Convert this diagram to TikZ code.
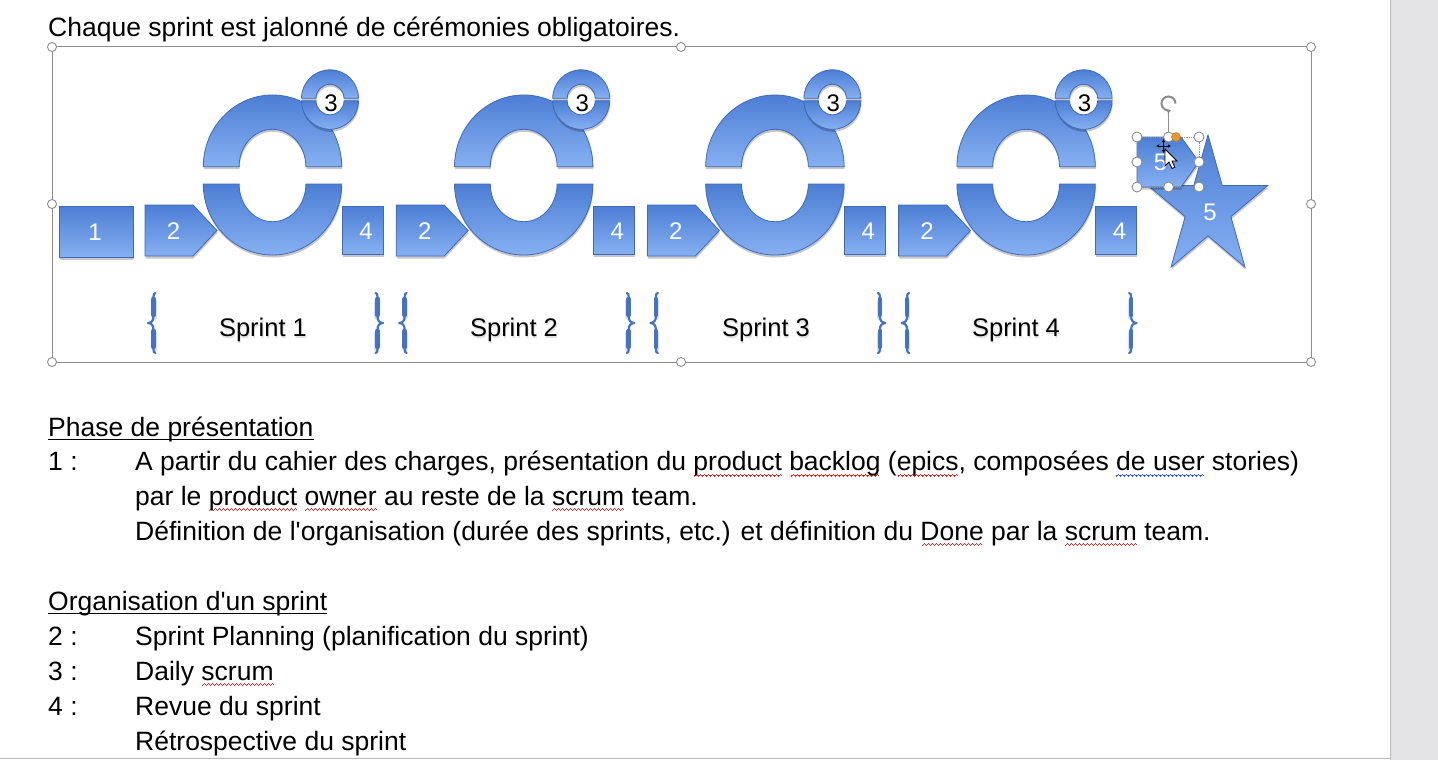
\documentclass[tikz,border=0pt]{standalone}
\usepackage{fontspec}
\setmainfont{Liberation Sans}[Ligatures=TeXOff]
\usetikzlibrary{shadows,arrows.meta}
\definecolor{shapeTop}{RGB}{76,126,212}
\definecolor{shapeBot}{RGB}{134,176,242}
\definecolor{shapeBorder}{RGB}{62,106,186}
\definecolor{braceBlue}{RGB}{68,114,196}
\definecolor{handleGrey}{RGB}{140,140,140}
\definecolor{lineGrey}{RGB}{185,185,185}
\definecolor{spellRed}{RGB}{225,30,30}
\definecolor{spellBlue}{RGB}{40,80,230}
\definecolor{scrollGrey}{RGB}{228,228,231}
\definecolor{handleOrange}{RGB}{232,152,48}
\newcommand\wavunit{\rule[-6pt]{1pt}{1.1pt}\rule[-5.1pt]{1pt}{1.1pt}\rule[-4.2pt]{1pt}{1.1pt}\rule[-5.1pt]{1pt}{1.1pt}}
\newcommand\wv[2]{\setbox0\hbox{#2}\rlap{\textcolor{#1}{\hbox to \wd0{\cleaders\hbox{\wavunit}\hfill}}}\box0\relax}
\newcommand\rwv[1]{\wv{spellRed}{#1}}
\newcommand\bwv[1]{\wv{spellBlue}{#1}}
\newcommand\bodyfont{\fontsize{26.5}{32}\selectfont}
\begin{document}
\begin{tikzpicture}[x=1pt,y=-1pt,
  blueshape/.style={draw=shapeBorder, line width=0.8pt, top color=shapeTop, bottom color=shapeBot,
    drop shadow={shadow xshift=0.5pt, shadow yshift=-2.5pt, opacity=0.22, fill=black}},
  numlabel/.style={text=white, font=\fontsize{24}{28}\selectfont, inner sep=0},
  blacklabel/.style={text=black, font=\fontsize{24}{28}\selectfont, inner sep=0},
  bodytext/.style={anchor=base west, inner sep=0, font=\bodyfont},
  sprintlabel/.style={anchor=base, inner sep=0, font=\fontsize{25.5}{30}\selectfont},
  sprintshadow/.style={anchor=base, inner sep=0, font=\fontsize{25.5}{30}\selectfont, text=black, opacity=0.12},
  handle/.style={circle, draw=handleGrey, fill=white, line width=0.9pt, minimum size=9pt, inner sep=0},
  bracethin/.style={line width=2.2pt, line cap=round, line join=round},
  bracethick/.style={line width=4.6pt, line cap=round},
  lbrace/.pic={
    \begin{scope}[shift={(1,2.5)}, black, opacity=0.12]
      \draw[bracethick] (0,-24) -- (0,-8) (0,8) -- (0,24);
    \end{scope}
    \draw[bracethin, braceBlue] (2,-30) .. controls (0.4,-30) and (0,-28.5) .. (0,-26) -- (0,-7) .. controls (0,-2) and (-2,-0.4) .. (-5.5,0) .. controls (-2,0.4) and (0,2) .. (0,7) -- (0,26) .. controls (0,28.5) and (0.4,30) .. (2,30);
    \draw[bracethick, braceBlue] (0,-24) -- (0,-8) (0,8) -- (0,24);
  }
]
\useasboundingbox (0,0) rectangle (1438,760);
\fill[white] (0,0) rectangle (1438,760);
\fill[scrollGrey] (1390,0) rectangle (1438,760);
\draw[lineGrey, line width=1pt] (1390.5,0) -- (1390.5,760);
\draw[lineGrey, line width=1pt] (0,758.5) -- (1390,758.5);

% title
\node[bodytext] (title) at (48,37) {Chaque sprint est jalonné de cérémonies obligatoires.};

% frame of the diagram
\draw[handleGrey, line width=1pt] (52,47) rectangle (1311,362);

% step 1
\path[blueshape] (59,206) rectangle (133,257);
\node[numlabel] (n1) at (95,232) {1};

% sprints
\foreach \i in {0,1,2,3} {
  \begin{scope}[shift={(251.2*\i,0)}]
    \path[blueshape] (145,205) -- (193,205) -- (217,230.5) -- (193,256) -- (145,256) -- cycle;
    \node[numlabel] (two\i) at (173.5,231.5) {2};
    % big ring, top half
    \path[blueshape] (203.3,166.7) arc[start angle=180, end angle=360, x radius=69.2, y radius=71.7]
       -- (305.9,166.7) arc[start angle=360, end angle=180, x radius=33.4, y radius=37.4] -- cycle;
    % big ring, bottom half
    \path[blueshape] (341.7,184) arc[start angle=0, end angle=180, x radius=69.2, y radius=71]
       -- (239.1,184) arc[start angle=180, end angle=0, x radius=33.4, y radius=37.7] -- cycle;
    % small ring
    \path[blueshape] (301.5,98.3) arc[start angle=180, end angle=360, x radius=28.5, y radius=28.5]
       -- (344,98.3) arc[start angle=360, end angle=180, x radius=14, y radius=14] -- cycle;
    \path[blueshape] (358.5,100.8) arc[start angle=0, end angle=180, x radius=28.5, y radius=28.5]
       -- (316,100.8) arc[start angle=180, end angle=0, x radius=14, y radius=14] -- cycle;
    \node[blacklabel] (three\i) at (331,103) {3};
    % review box
    \path[blueshape] (342,206) rectangle (383,254);
    \node[numlabel] (four\i) at (366,231.5) {4};
    % braces
    \pic at (153.5,323) {lbrace};
    \pic[xscale=-1] at (377.5,323) {lbrace};
  \end{scope}
}

% sprint labels
\foreach \i/\x in {1/263,2/514,3/766,4/1016} {
  \node[sprintshadow] at (\x+0.8,338.5) {Sprint \i};
  \node[sprintlabel] (sprint\i) at (\x,336) {Sprint \i};
}

% star 5
\path[blueshape] (1208,135) -- (1222.2,185.4) -- (1267.9,185.4) -- (1230.9,216.6) -- (1245,267.1)
   -- (1208,235.9) -- (1171,267.1) -- (1185.1,216.6) -- (1148.1,185.4) -- (1193.8,185.4) -- cycle;
\node[numlabel] (five) at (1210,212) {5};

% selected small shape 5
\path[blueshape] (1137,137) -- (1181,137) -- (1199,162) -- (1181,187) -- (1137,187) -- cycle;
\node[numlabel] (fivesel) at (1160.5,162) {5};
\draw[handleGrey, line width=0.8pt, densely dotted] (1137,137) rectangle (1199,187);
\draw[handleGrey, line width=1.2pt] (1168.5,112) -- (1168.5,137);
\draw[handleGrey, line width=2pt, -{Stealth[length=4.5pt,width=6pt]}] (1175.5,103.5) arc[start angle=0, end angle=-290, radius=7];

% handles of the selected shape
\foreach \p/\q in {1137/137,1168.5/137,1199/137,1137/162,1199/162,1137/187,1168.5/187,1199/187} {
  \node[handle, minimum size=10pt] at (\p,\q) {};
}
\node[circle, fill=handleOrange, draw=handleOrange!80!black, line width=0.5pt, minimum size=9pt, inner sep=0] (adj) at (1176,137) {};

% handles of the frame
\foreach \p/\q in {52/47,681/47,1311/47,52/204,1311/204,52/362,681/362,1311/362} {
  \node[handle] at (\p,\q) {};
}

% mouse cursor
\draw[black, line width=0.9pt, {Latex[length=3pt,width=3.5pt]}-{Latex[length=3pt,width=3.5pt]}] (1156,146) -- (1171,146);
\draw[black, line width=0.9pt, {Latex[length=3pt,width=3.5pt]}-{Latex[length=3pt,width=3.5pt]}] (1163.5,139) -- (1163.5,153);
\draw[black, fill=white, line width=0.8pt, shift={(1165,149)}] (0,0) -- (0,17) -- (4,13) -- (7,19.5) -- (9.8,18.3) -- (7,12) -- (12,12) -- cycle;

% body text
\node[bodytext] (h1) at (48,436) {Phase de présentation};
\draw[line width=1.7pt] ([yshift=-3.6pt]h1.base west) -- ([yshift=-3.6pt]h1.base east);
\node[bodytext] (k1) at (48,470.5) {1 :};
\node[bodytext] (t1a) at (135,470.5) {A partir du cahier des charges, présentation du \rwv{product} \rwv{backlog} (\rwv{epics}, composées \bwv{de user} stories)};
\node[bodytext] (t1b) at (135,505) {par le \rwv{product} \rwv{owner} au reste de la \rwv{scrum} team.};
\node[bodytext] (t1c) at (135,540) {Définition de l'organisation (durée des sprints, etc.) et définition du \rwv{Done} par la \rwv{scrum} team.};
\node[bodytext] (h2) at (48,610) {Organisation d'un sprint};
\draw[line width=1.7pt] ([yshift=-3.6pt]h2.base west) -- ([yshift=-3.6pt]h2.base east);
\node[bodytext] (k2) at (48,645) {2 :};
\node[bodytext] (t2) at (135,645) {Sprint Planning (planification du sprint)};
\node[bodytext] (k3) at (48,680) {3 :};
\node[bodytext] (t3) at (135,680) {Daily \rwv{scrum}};
\node[bodytext] (k4) at (48,715) {4 :};
\node[bodytext] (t4) at (135,715) {Revue du sprint};
\node[bodytext] (t5) at (135,750) {Rétrospective du sprint};
\end{tikzpicture}
\end{document}
